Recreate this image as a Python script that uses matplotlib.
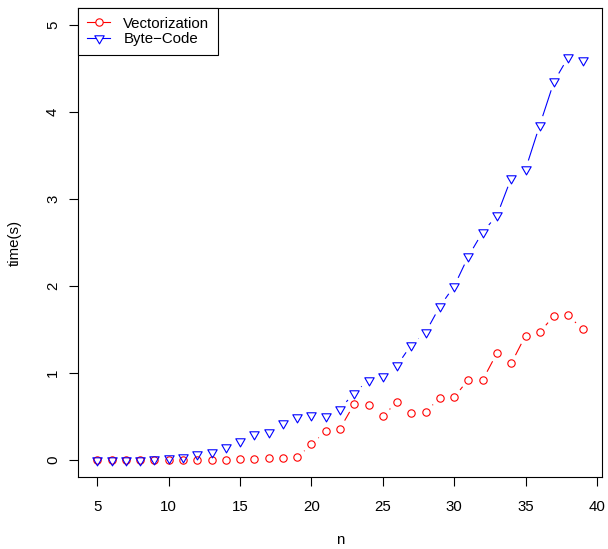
import numpy as np
import matplotlib
matplotlib.use('Agg')
import matplotlib.pyplot as plt
from matplotlib.path import Path
from matplotlib.lines import Line2D

# ---- data ----
n = list(range(5, 40))
vectorization = [0.0, 0.0, 0.0, 0.0, 0.0,
                 0.005, 0.005, 0.005, 0.005, 0.005,
                 0.01, 0.015, 0.02, 0.025, 0.03,
                 0.18, 0.33, 0.36, 0.645, 0.634,
                 0.507, 0.665, 0.538, 0.557, 0.71,
                 0.722, 0.925, 0.92, 1.229, 1.11,
                 1.43, 1.467, 1.66, 1.663, 1.50]
byte_code = [0.0, 0.0, 0.005, 0.005, 0.01,
             0.027, 0.04, 0.07, 0.09, 0.15,
             0.22, 0.30, 0.32, 0.42, 0.49,
             0.52, 0.51, 0.59, 0.768, 0.92,
             0.97, 1.087, 1.325, 1.467, 1.766,
             1.997, 2.342, 2.62, 2.81, 3.24,
             3.34, 3.85, 4.35, 4.63, 4.60]
x_ticks = [5, 10, 15, 20, 25, 30, 35, 40]
y_ticks = [0, 1, 2, 3, 4, 5]
series_labels = ['Vectorization', 'Byte\u2212Code']
x_label = 'n'
y_label = 'time(s)'

plt.rcParams['font.family'] = ['Liberation Sans', 'DejaVu Sans']
FS = 10.8
W, H = 608, 549
fig = plt.figure(figsize=(W / 100, H / 100), dpi=100)
L, R, T, B = 78, 602, 7.5, 477.4
ax = fig.add_axes([L / W, 1 - B / H, (R - L) / W, (B - T) / H])

xr = max(n) - min(n)
ax.set_xlim(min(n) - 0.04 * xr, max(n) + 0.04 * xr)
ax.set_ylim(y_ticks[0] - 0.04 * (y_ticks[-1] - y_ticks[0]),
            y_ticks[-1] + 0.04 * (y_ticks[-1] - y_ticks[0]))

# R-like downward triangle (pch 6), centred on its centroid
tri = Path([(0, -1), (-0.866, 0.5), (0.866, 0.5), (0, -1)], closed=True)

LW = 0.8
GAP = 9.3  # px, gap between line segments and points (type = "b")


def type_b(xs, ys, color):
    tr = ax.transData
    P = tr.transform(np.column_stack([xs, ys]))
    inv = tr.inverted()
    for p, q in zip(P[:-1], P[1:]):
        d = q - p
        ln = np.hypot(d[0], d[1])
        if ln > 2 * GAP:
            u = d / ln
            seg = inv.transform(np.array([p + u * GAP, q - u * GAP]))
            ax.plot(seg[:, 0], seg[:, 1], color=color, lw=LW,
                    solid_capstyle='butt')


type_b(n, vectorization, 'red')
ax.plot(n, vectorization, ls='none', marker='o', mfc='none', mec='red',
        ms=5.3, mew=LW)
type_b(n, byte_code, 'blue')
ax.plot(n, byte_code, ls='none', marker=tri, mfc='none', mec='blue',
        ms=7.8, mew=LW)

ax.set_xticks(x_ticks)
ax.set_yticks(y_ticks)
ax.tick_params(axis='both', direction='out', length=6.7, width=0.8,
               colors='black', labelsize=FS)
ax.tick_params(axis='x', pad=9.3)
ax.tick_params(axis='y', pad=6.2)
for lab in ax.get_yticklabels():
    lab.set_rotation(90)
    lab.set_va('center')
for s in ax.spines.values():
    s.set_linewidth(0.8)
    s.set_color('black')

ax.set_xlabel(x_label, fontsize=FS)
ax.xaxis.set_label_coords(0.5, -(540 - B) / (B - T))
ax.xaxis.label.set_va('center')
ax.set_ylabel(y_label, fontsize=FS)
ax.yaxis.set_label_coords(-(L - 15) / (R - L), 0.5)
ax.yaxis.label.set_va('center')

handles = [
    Line2D([], [], color='red', lw=LW, marker='o', mfc='white', mec='red',
           ms=5.3, mew=LW),
    Line2D([], [], color='blue', lw=LW, marker=tri, mfc='white', mec='blue',
           ms=7.8, mew=LW),
]
leg = ax.legend(handles, series_labels, loc='upper left', fontsize=FS,
                borderaxespad=0, borderpad=0.6, handlelength=1.55,
                handletextpad=0.87, labelspacing=0.13, fancybox=False,
                framealpha=1, edgecolor='black')
leg.get_frame().set_linewidth(0.8)

fig.savefig('out.png', dpi=100)
